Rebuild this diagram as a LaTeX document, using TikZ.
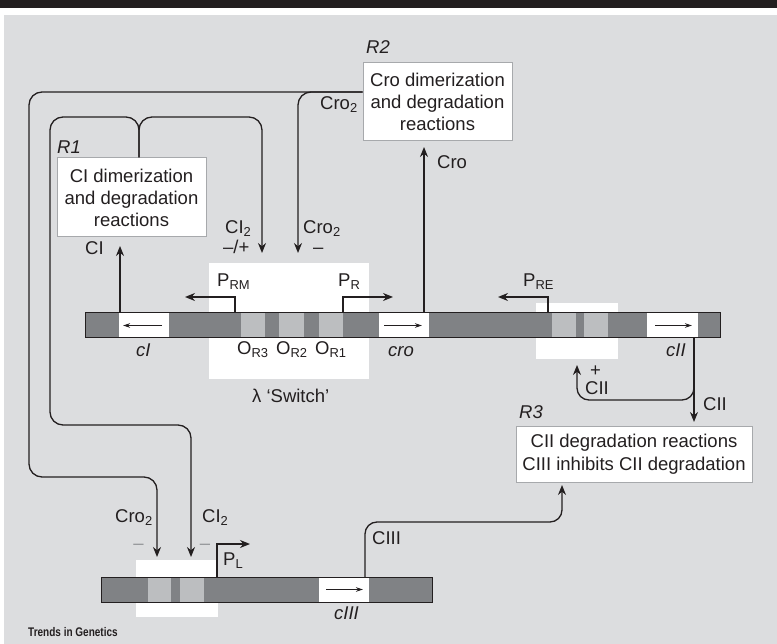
\documentclass[tikz,border=0pt]{standalone}
\usepackage{fontspec}
\setmainfont{Liberation Sans}
\usetikzlibrary{arrows.meta}
\definecolor{bg}{HTML}{DCDDDF}
\definecolor{bardark}{HTML}{808285}
\definecolor{oplight}{HTML}{BCBEC0}
\definecolor{ink}{HTML}{231F20}
\definecolor{boxline}{HTML}{A7A9AC}
\definecolor{dashgray}{HTML}{939598}
\begin{document}
\begin{tikzpicture}[x=1pt,y=-1pt,
  lbl/.style={font=\fontsize{18.5}{22}\selectfont, text=ink, inner sep=0pt},
  ital/.style={font=\fontsize{18.5}{22}\selectfont\itshape, text=ink, inner sep=0pt},
  rbox/.style={draw=boxline, line width=1pt, fill=white, inner sep=0pt, align=center,
               font=\fontsize{18.5}{22}\selectfont, text=ink},
  conn/.style={draw=ink, line width=1.3pt},
  tip/.style={-{Stealth[length=10pt,width=8pt]}},
  genearrow/.style={draw=ink, line width=0.9pt, -{Stealth[length=7pt,width=4.5pt]}},
  barline/.style={draw=ink, line width=1pt},
  graydash/.style={font=\fontsize{18.5}{22}\selectfont, text=dashgray, inner sep=0pt}
]
\useasboundingbox (0,0) rectangle (777,644);
% background
\fill[white] (0,0) rectangle (777,644);
\fill[bg] (4,15) rectangle (777,644);
\fill[ink] (0,0) rectangle (777,8.5);

% ---------------- main DNA bar ----------------
\fill[white] (209,263) rectangle (369,379);
\fill[white] (536,303) rectangle (618,359);
\fill[bardark] (85,313) rectangle (720,338);
\fill[white] (119,313) rectangle (169,338);
\fill[white] (379,313) rectangle (429,338);
\fill[white] (647,313) rectangle (698,338);
\fill[oplight] (241,313) rectangle (265,338);
\fill[oplight] (279,313) rectangle (304,338);
\fill[oplight] (319,313) rectangle (343,338);
\fill[oplight] (552,313) rectangle (576,338);
\fill[oplight] (584,313) rectangle (608,338);
\draw[barline] (85,313) rectangle (720,338);
\coordinate (cIa) at (162,325.5); \coordinate (cIb) at (123,325.5);
\coordinate (croa) at (384,325.5); \coordinate (crob) at (422,325.5);
\coordinate (cIIa) at (655,325.5); \coordinate (cIIb) at (692,325.5);
\draw[genearrow] (cIa) -- (cIb);
\draw[genearrow] (croa) -- (crob);
\draw[genearrow] (cIIa) -- (cIIb);

% promoters
\coordinate (PRMa) at (235,313); \coordinate (PRMb) at (185,297);
\coordinate (PRa) at (343,313); \coordinate (PRb) at (393,297);
\coordinate (PREa) at (548,313); \coordinate (PREb) at (498,297);
\draw[conn, tip] (PRMa) |- (PRMb);
\draw[conn, tip] (PRa) |- (PRb);
\draw[conn, tip] (PREa) |- (PREb);

% ---------------- bottom DNA bar ----------------
\fill[white] (136,560) rectangle (218,617);
\fill[bardark] (101,577) rectangle (432,602);
\fill[white] (319,577) rectangle (369,602);
\fill[oplight] (148,577) rectangle (171,602);
\fill[oplight] (180,577) rectangle (204,602);
\draw[barline] (101,577) rectangle (432,602);
\coordinate (cIIIa) at (326,589.5); \coordinate (cIIIb) at (363,589.5);
\draw[genearrow] (cIIIa) -- (cIIIb);
\coordinate (PLa) at (217,577); \coordinate (PLb) at (250,544);
\draw[conn, tip] (PLa) |- (PLb);

% ---------------- reaction boxes ----------------
\node[rbox, minimum width=149pt, minimum height=78pt] (R2) at (437.5,102)
  {Cro dimerization\\and degradation\\reactions};
\node[rbox, minimum width=149pt, minimum height=79pt] (R1) at (131.5,197.5)
  {CI dimerization\\and degradation\\reactions};
\node[rbox, minimum width=236pt, minimum height=55pt, font=\fontsize{18.5}{23}\selectfont] (R3) at (634,454.5)
  {CII degradation reactions\\CIII inhibits CII degradation};
\node[ital, anchor=base west] (R2lab) at (366,53.6) {R2};
\node[ital, anchor=base west] (R1lab) at (57,153.6) {R1};
\node[ital, anchor=base west] (R3lab) at (519,418.6) {R3};

% ---------------- connectors ----------------
\coordinate (CI2sw) at (262,253);
\coordinate (CI2pl) at (191,557);
\coordinate (Cro2sw) at (298,253);
\coordinate (Cro2pl) at (157,557);
\coordinate (CIsrc) at (120,313);
\coordinate (CIdst) at (120,246);
\coordinate (Crosrc) at (424,313);
\coordinate (Crodst) at (424,147);
\coordinate (CIIsrc) at (694,338);
\coordinate (CIIdst) at (694,422);
\coordinate (CIIfb) at (577,365);
\coordinate (CIIIsrc) at (365,577);
\coordinate (CIIIdst) at (562,485);

\draw[conn, tip, rounded corners=13pt] ([xshift=7.5pt]R1.north) -- (139,117) -- (50,117) -- (50,425) -- (191,425) -- (CI2pl);
\draw[conn, tip, rounded corners=13pt] ([xshift=7.5pt]R1.north) -- (139,117) -- (262,117) -- (CI2sw);
\draw[conn, tip, rounded corners=13pt] ([yshift=10pt]R2.west) -- (29,92) -- (29,477) -- (157,477) -- (Cro2pl);
\draw[conn, tip, rounded corners=13pt] ([yshift=10pt]R2.west) -- (298,92) -- (Cro2sw);
\draw[conn, tip] (CIsrc) -- (CIdst);
\draw[conn, tip] (Crosrc) -- (Crodst);
\draw[conn, tip] (CIIsrc) -- (CIIdst);
\draw[conn, tip, rounded corners=12pt] (CIIsrc) -- (694,400) -- (577,400) -- (CIIfb);
\draw[conn, tip, rounded corners=12pt] (CIIIsrc) -- (365,522) -- (562,522) -- (CIIIdst);

% ---------------- labels ----------------
\node[lbl, anchor=base west] (lCro2top) at (320,109.6) {Cro\textsubscript{2}};
\node[lbl, anchor=base west] (lCI2) at (225,233.6) {CI\textsubscript{2}};
\node[lbl, anchor=base west] (lCI2s) at (223,253.5) {–/+};
\node[lbl, anchor=base west] (lCro2) at (303,233.6) {Cro\textsubscript{2}};
\node[lbl, anchor=base west] (lCro2s) at (313,253.5) {–};
\node[lbl, anchor=base west] (lCI) at (85,254.6) {CI};
\node[lbl, anchor=base west] (lCro) at (437,168.6) {Cro};
\node[lbl, anchor=base west] (lPRM) at (217,286.6) {P\textsubscript{RM}};
\node[lbl, anchor=base west] (lPR) at (338,286.6) {P\textsubscript{R}};
\node[lbl, anchor=base west] (lPRE) at (523,286.6) {P\textsubscript{RE}};
\node[ital, anchor=base west] (lcI) at (136,356.6) {cI};
\node[lbl, anchor=base west] (lOR3) at (237,354.6) {O\textsubscript{R3}};
\node[lbl, anchor=base west] (lOR2) at (276,354.6) {O\textsubscript{R2}};
\node[lbl, anchor=base west] (lOR1) at (315,354.6) {O\textsubscript{R1}};
\node[ital, anchor=base west] (lcro) at (388,356.6) {cro};
\node[lbl, anchor=base west] (lsw) at (252,402.6) {λ ‘Switch’};
\node[ital, anchor=base west] (lcII) at (666,356.6) {cII};
\node[lbl, anchor=base] (lplus) at (595.5,376.5) {+};
\node[lbl, anchor=base west] (lCIIfb) at (585,394.6) {CII};
\node[lbl, anchor=base west] (lCII) at (703,410.6) {CII};
\node[lbl, anchor=base west] (lCIII) at (372,544.6) {CIII};
\node[lbl, anchor=base west] (lCro2b) at (115,522.6) {Cro\textsubscript{2}};
\node[lbl, anchor=base west] (lCI2b) at (202,522.6) {CI\textsubscript{2}};
\node[graydash, anchor=base] (d1) at (138.5,549) {–};
\node[graydash, anchor=base] (d2) at (205,549) {–};
\node[lbl, anchor=base west] (lPL) at (223,565.6) {P\textsubscript{L}};
\node[ital, anchor=base west] (lcIII) at (334,619.6) {cIII};
\node[inner sep=0pt, anchor=base west, text=ink] (credit) at (28,636.5)
  {\fontsize{12.5}{14}\selectfont\bfseries\scalebox{0.8}[1]{Trends in Genetics}};
\end{tikzpicture}
\end{document}
